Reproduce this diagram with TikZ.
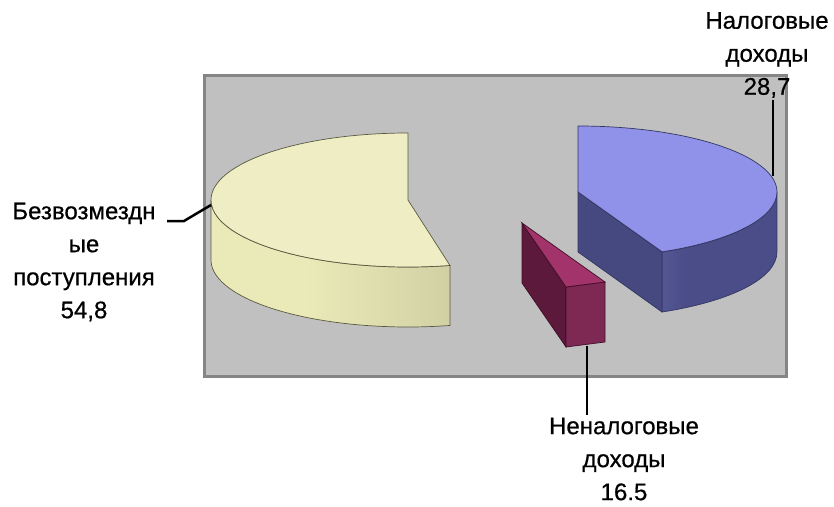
\documentclass[tikz,border=0pt]{standalone}
\usepackage{fontspec}
\setmainfont{Liberation Sans}
\newfontfamily\lblfont{Liberation Sans}[FakeBold=0.6]
\newlength{\du}
\setlength{\du}{1pt}
\definecolor{yelside}{rgb}{0.918, 0.918, 0.722}
\definecolor{yelmid}{rgb}{0.800, 0.800, 0.630}
\definecolor{yeldark}{rgb}{0.640, 0.640, 0.525}
\definecolor{bluelight}{rgb}{0.380, 0.392, 0.650}
\definecolor{bluedark}{rgb}{0.290, 0.302, 0.530}
\pgfdeclarehorizontalshading{yelwall}{100bp}{color(0bp)=(yelside); color(45bp)=(yelside); color(80bp)=(yelmid); color(100bp)=(yeldark)}
\pgfdeclarehorizontalshading{bluewall}{100bp}{color(0bp)=(bluedark); color(12bp)=(bluelight); color(35bp)=(bluedark); color(100bp)=(bluedark)}

\begin{document}
\begin{tikzpicture}[thick, lbl/.style={align=center, inner sep=2\du, font=\lblfont\fontsize{24}{33}\selectfont}]
\pgftransformxscale{1.000000}
\pgftransformyscale{-1.000000}
\useasboundingbox (0\du,0\du) rectangle (834\du,506\du);
% plot area
\definecolor{dialinecolor}{rgb}{0.752941, 0.752941, 0.752941}
\pgfsetfillcolor{dialinecolor}
\fill (204\du,75\du)--(204\du,376\du)--(786\du,376\du)--(786\du,75\du)--cycle;
\pgfsetlinewidth{3.000000\du}
\definecolor{dialinecolor}{rgb}{0.520000, 0.520000, 0.520000}
\pgfsetstrokecolor{dialinecolor}
\draw (204\du,75\du)--(204\du,376\du)--(786\du,376\du)--(786\du,75\du)--cycle;
% yellow slice
\pgfsetlinewidth{0.700000\du}
\definecolor{dialinecolor}{rgb}{0.350000, 0.350000, 0.260000}
\pgfsetstrokecolor{dialinecolor}
\shade[shading=yelwall, draw=dialinecolor] (211\du,200\du) arc[start angle=180, end angle=77.7, x radius=197\du, y radius=67\du]--++(0\du,60\du) arc[start angle=77.7, end angle=180, x radius=197\du, y radius=67\du]--cycle;
\definecolor{dialinecolor}{rgb}{0.933333, 0.929412, 0.764706}
\pgfsetfillcolor{dialinecolor}
\filldraw (408\du,200\du)--(408\du,133\du) arc[start angle=270, end angle=77.7, x radius=197\du, y radius=67\du]--cycle;
% blue slice
\definecolor{dialinecolor}{rgb}{0.200000, 0.210000, 0.380000}
\pgfsetstrokecolor{dialinecolor}
\shade[shading=bluewall, draw=dialinecolor] (662\du,252\du) arc[start angle=65, end angle=0, x radius=199\du, y radius=66\du]--++(0\du,60\du) arc[start angle=0, end angle=65, x radius=199\du, y radius=66\du]--cycle;
\definecolor{dialinecolor}{rgb}{0.274510, 0.286275, 0.501961}
\pgfsetfillcolor{dialinecolor}
\filldraw (578\du,192\du)--(662\du,252\du)--(662\du,312\du)--(578\du,252\du)--cycle;
\definecolor{dialinecolor}{rgb}{0.560784, 0.572549, 0.909804}
\pgfsetfillcolor{dialinecolor}
\filldraw (578\du,192\du)--(578\du,126\du) arc[start angle=270, end angle=425, x radius=199\du, y radius=66\du]--cycle;
% red slice
\definecolor{dialinecolor}{rgb}{0.250000, 0.060000, 0.150000}
\pgfsetstrokecolor{dialinecolor}
\definecolor{dialinecolor}{rgb}{0.360000, 0.100000, 0.235000}
\pgfsetfillcolor{dialinecolor}
\filldraw (522\du,223\du)--(566\du,287\du)--(566\du,347\du)--(522\du,283\du)--cycle;
\definecolor{dialinecolor}{rgb}{0.490000, 0.160000, 0.330000}
\pgfsetfillcolor{dialinecolor}
\filldraw (566\du,287\du)--(605\du,282\du)--(605\du,342\du)--(566\du,347\du)--cycle;
\definecolor{dialinecolor}{rgb}{0.640000, 0.200000, 0.420000}
\pgfsetfillcolor{dialinecolor}
\filldraw (522\du,223\du)--(566\du,287\du)--(605\du,282\du)--cycle;
% labels
\definecolor{dialinecolor}{rgb}{0.000000, 0.000000, 0.000000}
\pgfsetstrokecolor{dialinecolor}
\pgfsetfillcolor{dialinecolor}
\node[lbl] (nalog) at (767\du,55\du) {Налоговые\\доходы\\28,7};
\node[lbl] (nenalog) at (624\du,459\du) {Неналоговые\\доходы\\16.5};
\node[lbl] (bezv) at (84\du,262\du) {Безвозмездн\\ые\\поступления\\54,8};
\coordinate (nalog rim) at (773\du,176\du);
\coordinate (nenalog rim) at (587\du,346\du);
\coordinate (bezv rim) at (211\du,205\du);
\coordinate (bezv bend) at (184\du,221\du);
\coordinate (bezv end) at (167\du,221\du);
\pgfsetlinewidth{2.500000\du}
\draw (nalog rim |- nalog.south)--(nalog rim);
\draw (nenalog rim)--(nenalog rim |- nenalog.north);
\draw (bezv rim)--(bezv bend)--(bezv end);
\end{tikzpicture}
\end{document}
